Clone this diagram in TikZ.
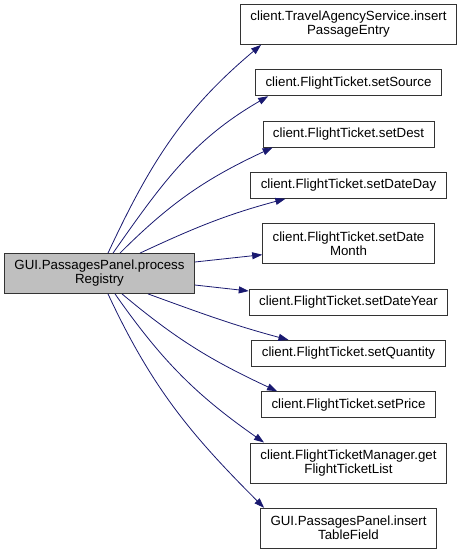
\documentclass[tikz,border=0pt]{standalone}
\usepackage{fontspec}
\setmainfont{Liberation Sans}
\usetikzlibrary{arrows.meta, positioning}
\definecolor{edgeblue}{RGB}{25, 25, 112}
\definecolor{nodegray}{RGB}{191, 191, 191}

\begin{document}
\begin{tikzpicture}[
  x=1pt, y=1pt,
  fn/.style={rectangle, draw=black!80, fill=white, line width=0.8pt, inner xsep=10pt, inner ysep=2pt, minimum height=26pt, align=center, font=\fontsize{13.3}{14}\selectfont},
  twoline/.style={minimum height=40pt},
  focus/.style={fn, twoline, fill=nodegray},
  call/.style={-{Triangle[length=10pt, width=7pt]}, edgeblue, line width=0.8pt}
]
  \useasboundingbox (0,0) rectangle (460,-555);

  % Nodes
  \node[focus] (proc) at (99.5,-273.5) {GUI.PassagesPanel.process\\Registry};
  \node[fn, twoline] (insert) at (348.5,-24.5) {client.TravelAgencyService.insert\\PassageEntry};
  \node[fn, below=24.5pt of insert] (source) {client.FlightTicket.setSource};
  \node[fn, below=24.5pt of source] (dest) {client.FlightTicket.setDest};
  \node[fn, below=24.5pt of dest] (day) {client.FlightTicket.setDateDay};
  \node[fn, twoline, below=24.5pt of day] (month) {client.FlightTicket.setDate\\Month};
  \node[fn, below=24.5pt of month] (year) {client.FlightTicket.setDateYear};
  \node[fn, below=24.5pt of year] (qty) {client.FlightTicket.setQuantity};
  \node[fn, below=24.5pt of qty] (price) {client.FlightTicket.setPrice};
  \node[fn, twoline, below=24.5pt of price] (list) {client.FlightTicketManager.get\\FlightTicketList};
  \node[fn, twoline, below=24.5pt of list] (field) {GUI.PassagesPanel.insert\\TableField};

  % Paths
  \draw[call] ([xshift=8.5pt]proc.north) to[out=65, in=220] ([xshift=21pt]insert.south west);
  \draw[call] ([xshift=13.5pt]proc.north) to[out=55, in=210] ([xshift=13pt]source.south west);
  \draw[call] ([xshift=20.5pt]proc.north) to[out=45, in=205] ([xshift=10pt]dest.south west);
  \draw[call] ([xshift=40.5pt]proc.north) to[out=25, in=195] ([xshift=35pt]day.south west);
  \draw[call] ([yshift=11.5pt]proc.east) -- ([yshift=-11pt]month.west);
  \draw[call] ([yshift=-11.5pt]proc.east) -- ([yshift=11pt]year.west);
  \draw[call] ([xshift=48.5pt]proc.south) to[out=-20, in=165] ([xshift=37pt]qty.north west);
  \draw[call] ([xshift=22.5pt]proc.south) to[out=-40, in=155] ([xshift=16pt]price.north west);
  \draw[call] ([xshift=15.5pt]proc.south) to[out=-55, in=145] ([xshift=14pt]list.north west);
  \draw[call] ([xshift=8.5pt]proc.south) to[out=-65, in=135] ([xshift=4pt]field.north west);
\end{tikzpicture}
\end{document}
